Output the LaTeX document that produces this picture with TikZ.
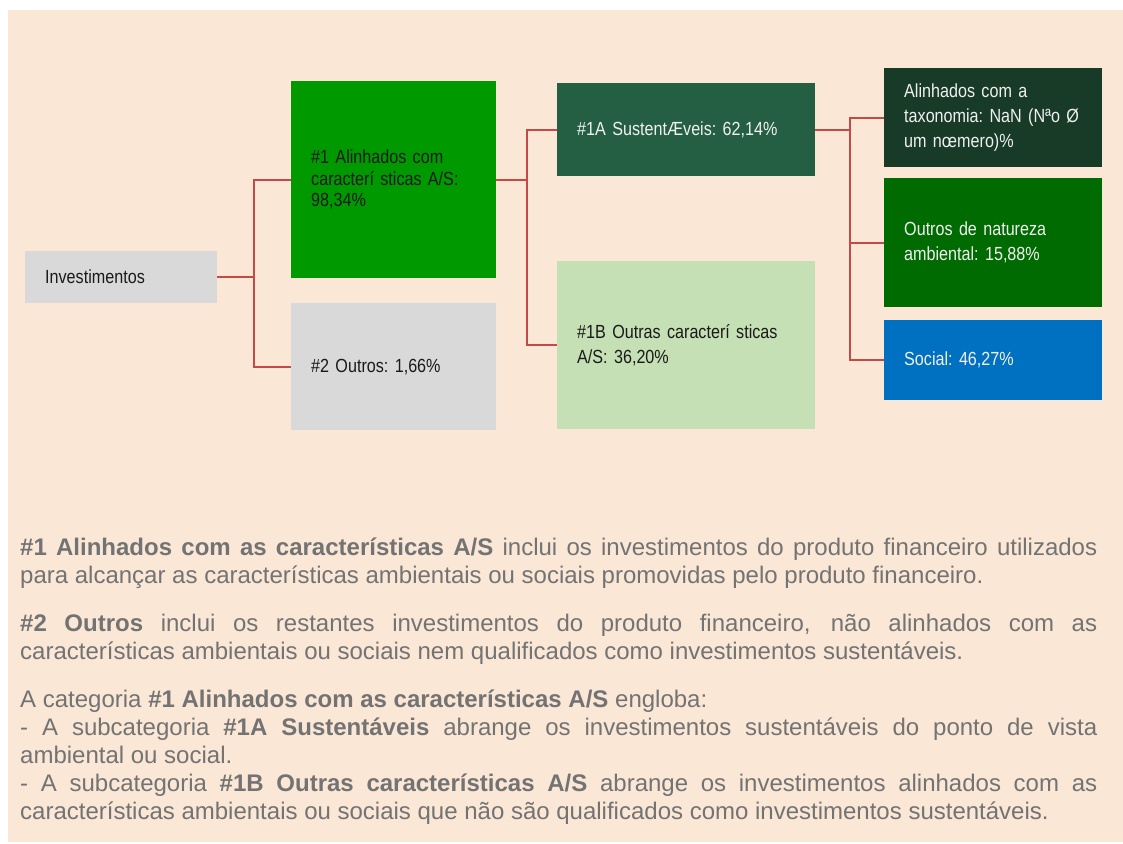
\documentclass[tikz,border=0pt]{standalone}
\usepackage{fontspec}
\setmainfont{Liberation Sans}
\newfontfamily\boxfont[FakeStretch=0.85,WordSpace=0.8]{Liberation Sans}
\usetikzlibrary{calc}
\definecolor{beige}{HTML}{FAE7D6}
\definecolor{boxgrey}{HTML}{D9D9D9}
\definecolor{brightgreen}{HTML}{009900}
\definecolor{tealgreen}{HTML}{245F43}
\definecolor{palegreen}{HTML}{C5E0B4}
\definecolor{deepgreen}{HTML}{183B28}
\definecolor{midgreen}{HTML}{006B00}
\definecolor{socialblue}{HTML}{0070C0}
\definecolor{linkred}{HTML}{C44A48}
\definecolor{inkdark}{HTML}{1A1A1A}
\definecolor{inklight}{HTML}{F0F0F0}
\definecolor{notegray}{HTML}{737373}
\tikzset{
  catbox/.style={rectangle,anchor=north west,inner xsep=20pt,inner ysep=0pt,align=left,
    font=\boxfont\fontsize{19pt}{25pt}\selectfont\frenchspacing},
  onlight/.style={text=inkdark},
  ondark/.style={text=inklight},
  link/.style={draw=linkred,line width=2pt},
  note/.style={anchor=north west,inner sep=0pt,text width=1077pt,align=justify,text=notegray,
    font=\fontsize{24pt}{28pt}\selectfont,
    execute at begin node={\hyphenpenalty=10000 \tolerance=10000\relax}}
}
\newcommand{\catbox}[7]{\node[catbox,#6,minimum width=#4pt,minimum height=#5pt,text width=#4pt-40pt] (#1) at (#2,#3) {#7};}
\newcommand{\link}[2]{\draw[link] (#1.east) -| ($(#1.east)!0.5!(#2.west)$) |- (#2.west);}

\begin{document}
\begin{tikzpicture}[x=1pt,y=-1pt]
    \fill[white] (0,0) rectangle (1123,843); \fill[beige] (8,10) rectangle (1123,842);
    \useasboundingbox (0,0) rectangle (1123,843);
    % category tree
    \catbox{inv}{25}{251}{192}{52}{fill=boxgrey,onlight}{Investimentos}
    \catbox{ali}{291}{81}{205}{197}{fill=brightgreen,onlight,font=\boxfont\fontsize{19pt}{21.5pt}\selectfont\frenchspacing}{\#1 Alinhados com\\caracterí sticas A/S:\\98,34\%}
    \catbox{out}{291}{303}{205}{127}{fill=boxgrey,onlight}{\#2 Outros: 1,66\%}
    \catbox{sus}{557}{83}{258}{93}{fill=tealgreen,ondark}{\#1A SustentÆveis: 62,14\%}
    \catbox{oca}{557}{261}{258}{168}{fill=palegreen,onlight}{\#1B Outras caracterí sticas\\A/S: 36,20\%}
    \catbox{tax}{884}{68}{218}{99}{fill=deepgreen,ondark}{Alinhados com a\\taxonomia: NaN (Nªo Ø\\um nœmero)\%}
    \catbox{amb}{884}{178}{218}{129}{fill=midgreen,ondark}{Outros de natureza\\ambiental: 15,88\%}
    \catbox{soc}{884}{320}{218}{80}{fill=socialblue,ondark}{Social: 46,27\%}
    \link{inv}{ali}\link{inv}{out}
    \link{ali}{sus}\link{ali}{oca}
    \link{sus}{tax}\link{sus}{amb}\link{sus}{soc}
    % explanation
    \node[note] (notes) at (20,538) {{\bfseries \#1 Alinhados com as características A/S} inclui os investimentos do produto financeiro utilizados\linebreak para alcançar as características ambientais ou sociais promovidas pelo produto financeiro.\par
    \vspace{20pt}{\bfseries \#2 Outros} inclui os restantes investimentos do produto financeiro, não alinhados com as\linebreak características ambientais ou sociais nem qualificados como investimentos sustentáveis.\par
    \vspace{20pt}A categoria {\bfseries \#1 Alinhados com as características A/S} engloba:\newline
    - A subcategoria {\bfseries \#1A Sustentáveis} abrange os investimentos sustentáveis do ponto de vista\linebreak ambiental ou social.\newline
    - A subcategoria {\bfseries \#1B Outras características A/S} abrange os investimentos alinhados com as\linebreak características ambientais ou sociais que não são qualificados como investimentos sustentáveis.};
\end{tikzpicture}
\end{document}
